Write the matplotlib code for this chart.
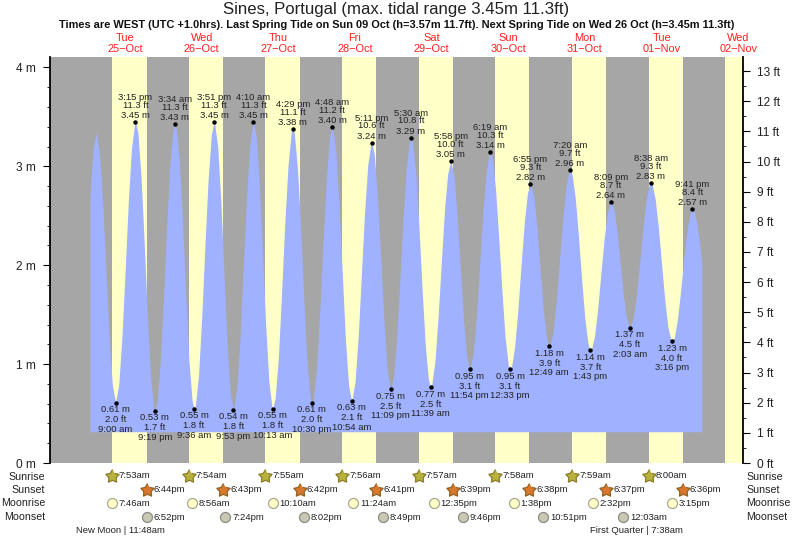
import numpy as np
import matplotlib
matplotlib.use('Agg')
import matplotlib.pyplot as plt
from matplotlib.path import Path

plt.rcParams['font.family'] = ['Liberation Sans', 'DejaVu Sans']

W, H = 793, 539

#water level, one value per hour starting 01:00 on 25 Oct
level = [
    2.70, 3.20, 3.34, 3.12, 2.62, 1.94, 1.27, 0.79, 0.61, 0.79, 1.27, 1.94, 2.64, 3.18, 3.44, 3.34, 2.89, 2.21, 1.46, 0.86, 0.55, 0.61, 1.02, 1.66,
    2.38, 3.01, 3.37, 3.39, 3.05, 2.42, 1.69, 1.03, 0.62, 0.58, 0.89, 1.48, 2.20, 2.87, 3.32, 3.44, 3.20, 2.63, 1.89, 1.18, 0.69, 0.55, 0.76, 1.28,
    1.97, 2.68, 3.20, 3.44, 3.32, 2.85, 2.15, 1.41, 0.83, 0.56, 0.66, 1.07, 1.72, 2.42, 3.00, 3.34, 3.33, 2.97, 2.36, 1.63, 1.01, 0.66, 0.65, 0.99,
    1.56, 2.24, 2.87, 3.29, 3.39, 3.15, 2.60, 1.92, 1.24, 0.78, 0.63, 0.82, 1.28, 1.91, 2.54, 3.02, 3.23, 3.13, 2.71, 2.10, 1.47, 0.97, 0.75, 0.86,
    1.25, 1.82, 2.44, 2.96, 3.25, 3.25, 2.94, 2.40, 1.76, 1.19, 0.84, 0.79, 1.02, 1.47, 2.02, 2.55, 2.92, 3.05, 2.90, 2.50, 1.96, 1.44, 1.07, 0.95,
    1.10, 1.48, 1.99, 2.51, 2.92, 3.13, 3.08, 2.77, 2.28, 1.74, 1.27, 0.99, 0.97, 1.18, 1.55, 2.00, 2.43, 2.73, 2.82, 2.69, 2.37, 1.94, 1.54, 1.26,
    1.18, 1.32, 1.63, 2.04, 2.45, 2.78, 2.95, 2.91, 2.67, 2.28, 1.84, 1.45, 1.20, 1.15, 1.28, 1.56, 1.92, 2.26, 2.53, 2.64, 2.58, 2.36, 2.04, 1.71,
    1.47, 1.37, 1.44, 1.66, 1.98, 2.33, 2.62, 2.80, 2.82, 2.67, 2.38, 2.01, 1.65, 1.37, 1.24, 1.27, 1.46, 1.75, 2.07, 2.36, 2.53, 2.56, 2.44, 2.20,
]
level_end = (192.6, 2.0)
blue_floor = 0.316

#labelled highs and lows, day is counted from 25 Oct
tide_day = [0, 0, 0, 1, 1, 1, 1, 2, 2, 2, 2, 3, 3, 3, 3, 4, 4, 4, 4, 5, 5, 5, 6, 6, 6, 6, 7, 7, 7, 7]
tide_time = ['9:00 am', '3:15 pm', '9:19 pm', '3:34 am', '9:36 am', '3:51 pm', '9:53 pm', '4:10 am', '10:13 am', '4:29 pm',
             '10:30 pm', '4:48 am', '10:54 am', '5:11 pm', '11:09 pm', '5:30 am', '11:39 am', '5:58 pm', '11:54 pm', '6:19 am',
             '12:33 pm', '6:55 pm', '12:49 am', '7:20 am', '1:43 pm', '8:09 pm', '2:03 am', '8:38 am', '3:16 pm', '9:41 pm']
tide_m = [0.61, 3.45, 0.53, 3.43, 0.55, 3.45, 0.54, 3.45, 0.55, 3.38,
          0.61, 3.40, 0.63, 3.24, 0.75, 3.29, 0.77, 3.05, 0.95, 3.14,
          0.95, 2.82, 1.18, 2.96, 1.14, 2.64, 1.37, 2.83, 1.23, 2.57]
tide_ft = ['2.0', '11.3', '1.7', '11.3', '1.8', '11.3', '1.8', '11.3', '1.8', '11.1',
           '2.0', '11.2', '2.1', '10.6', '2.5', '10.8', '2.5', '10.0', '3.1', '10.3',
           '3.1', '9.3', '3.9', '9.7', '3.7', '8.7', '4.5', '9.3', '4.0', '8.4']

day_names = ['Tue', 'Wed', 'Thu', 'Fri', 'Sat', 'Sun', 'Mon', 'Tue', 'Wed']
day_dates = ['25\u2212Oct', '26\u2212Oct', '27\u2212Oct', '28\u2212Oct', '29\u2212Oct', '30\u2212Oct', '31\u2212Oct', '01\u2212Nov', '02\u2212Nov']

sunrise = ['7:53am', '7:54am', '7:55am', '7:56am', '7:57am', '7:58am', '7:59am', '8:00am']
sunset = ['6:44pm', '6:43pm', '6:42pm', '6:41pm', '6:39pm', '6:38pm', '6:37pm', '6:36pm']
last_sunrise = '8:01am'
moonrise = ['7:46am', '8:56am', '10:10am', '11:24am', '12:35pm', '1:38pm', '2:32pm', '3:15pm']
moonset = ['6:52pm', '7:24pm', '8:02pm', '8:49pm', '9:46pm', '10:51pm', '12:03am']
moonset_day = [0, 1, 2, 3, 4, 5, 7]

def to_hours(day, text):
    '''
    Hours since 00:00 on 25 Oct for a clock string such as 9:00 am or 7:53am
    '''
    text = text.replace(' ', '')
    hh, mm = text[:-2].split(':')
    hh = int(hh) % 12
    if text.endswith('pm'):
        hh += 12
    return day * 24 + hh + int(mm) / 60

#pixels of the plot area
left, right, top, bottom = 49.5, 743.0, 57.0, 463.0

fig = plt.figure(figsize=(W / 100, H / 100), dpi=100)
ax = fig.add_axes([left / W, 1 - bottom / H, (right - left) / W, (bottom - top) / H])
ax.set_xlim(-11.68, 205.5)
ax.set_ylim(0, (bottom - top) / 98.9)
ax.set_facecolor('#a6a6a6')

def fig_text(x, y, s, **kw):
    fig.text(x / W, 1 - y / H, s, va='center', **kw)

def row_y(y):
    return (bottom - y) / (bottom - top)

#day bands
rise_h = [to_hours(i, t) for i, t in enumerate(sunrise)]
set_h = [to_hours(i, t) for i, t in enumerate(sunset)]
for a, b in zip(rise_h, set_h):
    ax.axvspan(a, b, color='#ffffc8', lw=0, zorder=1)
ax.axvspan(to_hours(8, last_sunrise), ax.get_xlim()[1], color='#ffffc8', lw=0, zorder=1)

#tide curve
tide_h = [to_hours(d, t) for d, t in zip(tide_day, tide_time)]
xs = np.concatenate([np.arange(1, len(level) + 1), tide_h, [level_end[0]]])
ys = np.concatenate([level, tide_m, [level_end[1]]])
order = np.argsort(xs)
ax.fill_between(xs[order], blue_floor, ys[order], color='#9fb1ff', lw=0, zorder=2)

#dots and labels
ax.plot(tide_h, tide_m, 'o', color='black', ms=3.2, mew=0, zorder=4)
for h, m, ft, t in zip(tide_h, tide_m, tide_ft, tide_time):
    is_high = m > 2
    if is_high:
        offsets = [6.5, 16.7, 24.5]
    else:
        offsets = [-7.3, -17.2, -26.5]
    for off, s in zip(offsets, [f'{m:.2f} m', f'{ft} ft', t]):
        ax.annotate(s, (h, m), xytext=(0, off * 0.72), textcoords='offset points', ha='center', va='center',
                    fontsize=6.8, color='#222222', zorder=5, annotation_clip=False)

#axes
for side in ['top', 'bottom']:
    ax.spines[side].set_visible(False)
ax.spines['right'].set_visible(False)
ax.spines['left'].set_linewidth(1.3)
ax.set_xticks([])
ax.set_yticks(np.arange(0, 5))
ax.set_yticklabels([f'{i} m' for i in range(5)], fontsize=8.6, color='#222222')
ax.set_yticks(np.arange(0, 4.1, 0.2), minor=True)
ax.tick_params(axis='y', which='major', length=5, width=0.8, pad=5)
ax.tick_params(axis='y', which='minor', length=2.5, width=0.6)

ax2 = ax.twinx()
ax2.set_ylim(0, ax.get_ylim()[1] * 3.28084)
for side in ['top', 'bottom', 'left']:
    ax2.spines[side].set_visible(False)
ax2.spines['right'].set_linewidth(1.3)
ax2.set_yticks(np.arange(0, 14))
ax2.set_yticklabels([f'{i} ft' for i in range(14)], fontsize=8.6, color='#222222')
ax2.set_yticks(np.arange(0, 13.5, 0.5), minor=True)
ax2.tick_params(axis='y', which='major', length=5, width=0.8, pad=5)
ax2.tick_params(axis='y', which='minor', length=2.5, width=0.6)

#titles
fig_text(W / 2 - 0.5, 9.5, 'Sines, Portugal (max. tidal range 3.45m 11.3ft)', ha='center', fontsize=12.05, color='#222222')
fig_text(W / 2 + 0.5, 25, 'Times are WEST (UTC +1.0hrs). Last Spring Tide on Sun 09 Oct (h=3.57m 11.7ft). Next Spring Tide on Wed 26 Oct (h=3.45m 11.3ft)',
         ha='center', fontsize=7.95, fontweight='bold', color='#111111')

trans = ax.get_xaxis_transform()
for i, (name, date) in enumerate(zip(day_names, day_dates)):
    ax.text(i * 24 + 12, row_y(37.5), name, transform=trans, ha='center', va='center', fontsize=7.9, color='#ff2020', clip_on=False)
    ax.text(i * 24 + 12, row_y(49.5), date, transform=trans, ha='center', va='center', fontsize=7.9, color='#ff2020', clip_on=False)

#sun and moon rows
angles = np.pi / 2 + np.arange(10) * np.pi / 5
radii = np.where(np.arange(10) % 2 == 0, 1.0, 0.55)
star = Path(np.column_stack([radii * np.cos(angles), radii * np.sin(angles)]))

rows = [('Sunrise', 476.5), ('Sunset', 490), ('Moonrise', 503.5), ('Moonset', 517)]
for name, y in rows:
    fig_text(45, y, name, ha='right', fontsize=7.7, color='#222222')
    fig_text(746, y, name, ha='left', fontsize=7.7, color='#222222')

def draw_row(days, times, y, marker, ms, face, edge):
    for d, t in zip(days, times):
        h = to_hours(d, t)
        ax.plot([h], [row_y(y)], marker=marker, ms=ms, mfc=face, mec=edge, mew=0.9, transform=trans, clip_on=False, zorder=6)
        ax.annotate(t, (h, row_y(y)), xycoords=trans, xytext=(5, 0), textcoords='offset points', ha='left', va='center',
                    fontsize=6.8, color='#222222', annotation_clip=False)

draw_row(range(8), sunrise, 476, star, 10, '#b7b23e', '#8c7a2a')
draw_row(range(8), sunset, 490, star, 10, '#d9772c', '#8f6324')
draw_row(range(8), moonrise, 503, 'o', 7.2, '#ffffc8', '#a8a890')
draw_row(moonset_day, moonset, 517, 'o', 7.2, '#c8c8b4', '#8c8c80')

#moon phases, the bar sits on the time of the phase
ax.annotate('New Moon | 11:48am', (to_hours(0, '11:48am'), row_y(530.5)), xycoords=trans, xytext=(-3.2, 0), textcoords='offset points',
            ha='center', va='center', fontsize=6.8, color='#222222', annotation_clip=False)
ax.annotate('First Quarter | 7:38am', (to_hours(7, '7:38am'), row_y(530.5)), xycoords=trans, xytext=(-8.3, 0), textcoords='offset points',
            ha='center', va='center', fontsize=6.8, color='#222222', annotation_clip=False)

fig.savefig('out.png', dpi=100)
